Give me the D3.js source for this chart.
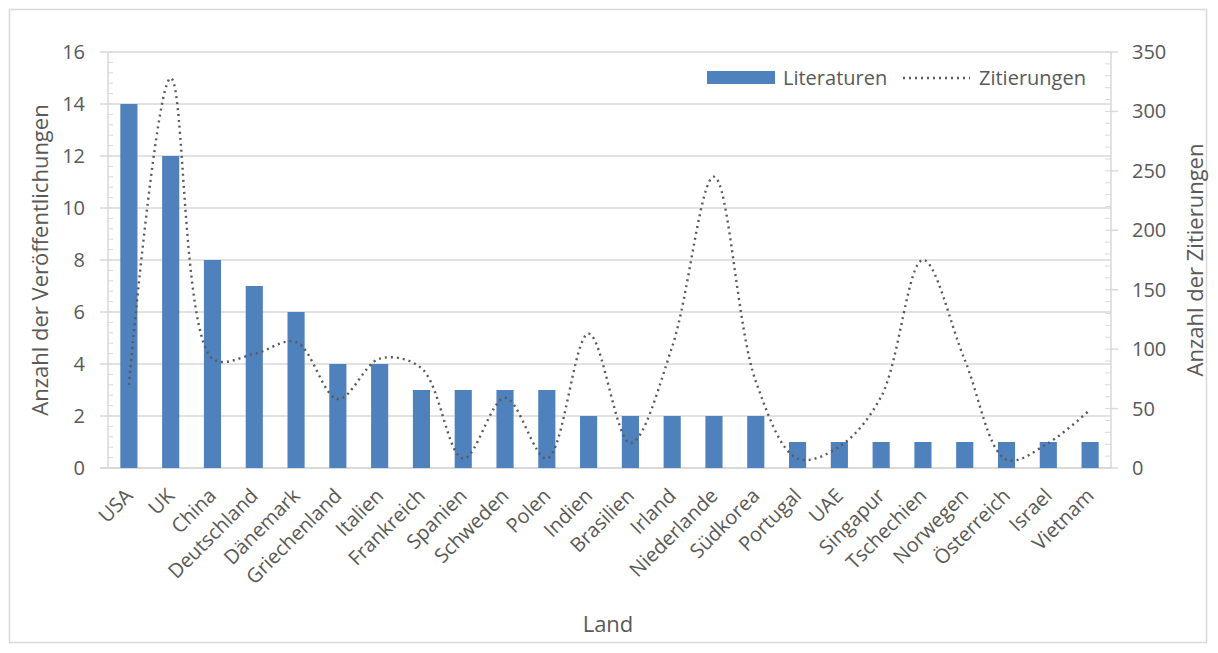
<!DOCTYPE html>
<html><head><meta charset="utf-8">
<script src="https://cdn.jsdelivr.net/npm/d3@7"></script>
<style>
body{margin:0;background:#fff;}
text{font-family:"Open Sans",sans-serif;fill:#595959;}
</style></head>
<body><svg id="chart" width="1218" height="653"></svg>
<script>
// Publications and citations by country
const countries = ["USA","UK","China","Deutschland","Dänemark","Griechenland","Italien","Frankreich","Spanien","Schweden","Polen","Indien","Brasilien","Irland","Niederlande","Südkorea","Portugal","UAE","Singapur","Tschechien","Norwegen","Österreich","Israel","Vietnam"];
const literaturen = [14,12,8,7,6,4,4,3,3,3,3,2,2,2,2,2,1,1,1,1,1,1,1,1];
const zitierungen = [70,328,92,96,106,58,92,84,8,59,8,113,21,102,245,73,8,18,60,175,91,7,21,49];
const leftTicks = [0,2,4,6,8,10,12,14,16];
const rightTicks = [0,50,100,150,200,250,300,350];

const svg = d3.select("#chart");
const m = {left:108, right:1111, top:52, bottom:468};
const grid = "#d9d9d9";

// outer frame
svg.append("rect").attr("x",9.5).attr("y",9.5).attr("width",1197).attr("height",633)
  .attr("fill","#fff").attr("stroke",grid).attr("stroke-width",1.5);

const x = d3.scaleBand().domain(countries).range([m.left,m.right]).paddingInner(0.59).paddingOuter(0.295);
const yL = d3.scaleLinear().domain([0,16]).range([m.bottom,m.top]);
const yR = d3.scaleLinear().domain([0,350]).range([m.bottom,m.top]);

// gridlines (extend slightly past both axes like outside major ticks)
svg.append("g").selectAll("line").data(leftTicks).join("line")
  .attr("x1",m.left-8).attr("x2",m.right).attr("y1",d=>yL(d)).attr("y2",d=>yL(d))
  .attr("stroke",grid).attr("stroke-width",d=>d===0?2:1.5);
svg.append("g").selectAll("line").data(rightTicks).join("line")
  .attr("x1",m.right).attr("x2",m.right+7).attr("y1",d=>yR(d)).attr("y2",d=>yR(d))
  .attr("stroke",grid).attr("stroke-width",1.5);

// minor ticks, left axis (inside)
svg.append("g").selectAll("line").data(d3.range(0,16.01,0.4)).join("line")
  .attr("x1",m.left).attr("x2",m.left+5).attr("y1",d=>yL(d)).attr("y2",d=>yL(d))
  .attr("stroke",grid).attr("stroke-width",1);
// minor ticks, right axis (inside)
svg.append("g").selectAll("line").data(d3.range(0,351,10)).join("line")
  .attr("x1",m.right-6).attr("x2",m.right).attr("y1",d=>yR(d)).attr("y2",d=>yR(d))
  .attr("stroke",grid).attr("stroke-width",1);

// axis lines
svg.append("line").attr("x1",m.left).attr("x2",m.left).attr("y1",m.top).attr("y2",m.bottom).attr("stroke",grid).attr("stroke-width",1.5);
svg.append("line").attr("x1",m.right).attr("x2",m.right).attr("y1",m.top).attr("y2",m.bottom).attr("stroke",grid).attr("stroke-width",1.5);

// bars
svg.append("g").selectAll("rect").data(countries).join("rect")
  .attr("x",d=>x(d)).attr("width",x.bandwidth())
  .attr("y",(d,i)=>yL(literaturen[i])).attr("height",(d,i)=>yL(0)-yL(literaturen[i]))
  .attr("fill","#4f81bd");

// smoothed dotted citations line
const line = d3.line().x((d,i)=>x(countries[i])+x.bandwidth()/2).y(d=>yR(d)).curve(d3.curveCatmullRom.alpha(0.5));
svg.append("path").datum(zitierungen).attr("d",line)
  .attr("fill","none").attr("stroke","#595959").attr("stroke-width",2.4)
  .attr("stroke-dasharray","2,4");

// left tick labels
svg.append("g").selectAll("text").data(leftTicks).join("text")
  .attr("x",85).attr("y",d=>yL(d)+7).attr("text-anchor","end").style("font-size","20px").text(d=>d);
// right tick labels
svg.append("g").selectAll("text").data(rightTicks).join("text")
  .attr("x",1132).attr("y",d=>yR(d)+7).attr("text-anchor","start").style("font-size","20px").text(d=>d);

// category labels
svg.append("g").selectAll("text").data(countries).join("text")
  .attr("transform",d=>`translate(${x(d)+x.bandwidth()/2+5},${m.bottom+29}) rotate(-45)`)
  .attr("text-anchor","end").style("font-size","20px").text(d=>d);

// axis titles
svg.append("text").attr("transform","translate(48,260) rotate(-90)").attr("text-anchor","middle").style("font-size","22px").text("Anzahl der Veröffentlichungen");
svg.append("text").attr("transform","translate(1203,260) rotate(-90)").attr("text-anchor","middle").style("font-size","22px").text("Anzahl der Zitierungen");
svg.append("text").attr("x",608).attr("y",632).attr("text-anchor","middle").style("font-size","22px").text("Land");

// legend
const lg = svg.append("g");
lg.append("rect").attr("x",707).attr("y",71).attr("width",68).attr("height",13).attr("fill","#4f81bd");
lg.append("text").attr("x",783).attr("y",85).style("font-size","20px").text("Literaturen");
lg.append("line").attr("x1",903).attr("x2",970).attr("y1",78).attr("y2",78)
  .attr("stroke","#595959").attr("stroke-width",2.4).attr("stroke-dasharray","2,4");
lg.append("text").attr("x",979).attr("y",85).style("font-size","20px").text("Zitierungen");
</script></body></html>
